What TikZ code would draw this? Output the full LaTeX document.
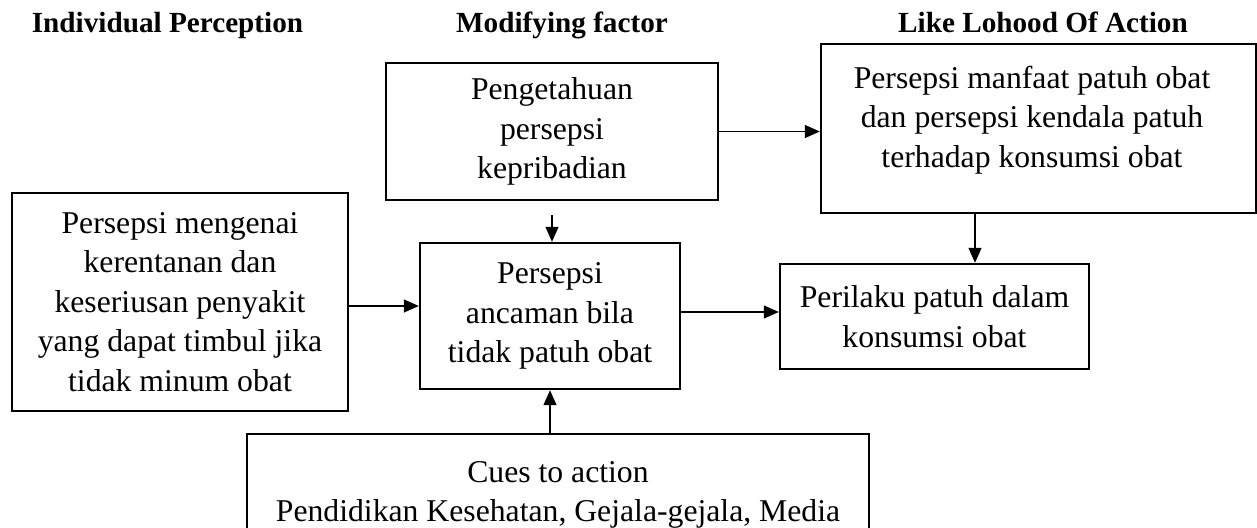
\documentclass[tikz,border=0pt]{standalone}
\usepackage{fontspec}
\setmainfont{Liberation Serif}
\usetikzlibrary{arrows.meta}
\newcommand\dgbody{\fontsize{31.7}{39.5}\selectfont}
\newcommand\dghead{\fontsize{29.2}{34}\selectfont\bfseries}
\begin{document}
\begin{tikzpicture}[x=1pt,y=-1pt,
  box/.style={draw, line width=2.4pt, inner sep=0pt, align=center, font=\dgbody},
  txt/.style={inner sep=0pt, align=center, font=\dgbody},
  head/.style={font=\dghead, anchor=base, inner sep=0pt},
  arr/.style={-{Triangle[length=15pt,width=13pt]}, line width=1.3pt}]
\clip (0,0) rectangle (1257,527);
% headings
\node[head] (h1) at (167.5,33) {Individual Perception};
\node[head] (h2) at (562,33) {Modifying factor};
\node[head] (h3) at (1043,33) {Like Lohood Of Action};
% boxes
\node[box, minimum width=336pt, minimum height=218pt] (left) at (180,302)
  {Persepsi mengenai\\kerentanan dan\\keseriusan penyakit\\yang dapat timbul jika\\tidak minum obat};
\node[box, minimum width=332pt, minimum height=137pt] (top) at (552,131.5)
  {Pengetahuan\\persepsi\\kepribadian};
\node[box, minimum width=260pt, minimum height=146pt] (mid) at (550,316)
  {Persepsi\\ancaman bila\\tidak patuh obat};
\node[box, minimum width=435pt, minimum height=169pt] (tr) at (1038.5,128.5) {};
\node[txt] (trtext) at (1032,120)
  {Persepsi manfaat patuh obat\\dan persepsi kendala patuh\\terhadap konsumsi obat};
\node[box, minimum width=309pt, minimum height=105pt] (per) at (934.5,316.5)
  {Perilaku patuh dalam\\konsumsi obat};
\node[box, minimum width=622pt, minimum height=122pt] (bot) at (558,495)
  {Cues to action\\Pendidikan Kesehatan, Gejala-gejala, Media};
% connectors
\draw[arr] ([yshift=-4pt]left.east) -- ([yshift=-4pt]left.east -| mid.west);
\draw[arr] (top.east) -- (top.east -| tr.west);
\coordinate (c3) at ([yshift=-14pt]top.south);
\draw[arr] (c3) -- (c3 |- mid.north);
\draw[arr] ([yshift=4pt]mid.east) -- ([yshift=4pt]mid.east -| per.west);
\coordinate (p5) at ([xshift=40.5pt]per.north);
\draw[arr] (p5 |- tr.south) -- (p5);
\draw[arr] (bot.north -| mid.south) -- (mid.south);
\end{tikzpicture}
\end{document}
